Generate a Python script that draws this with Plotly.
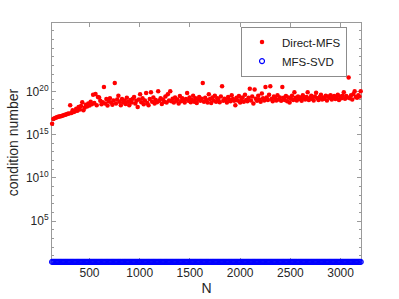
import plotly.graph_objects as go

# Sample sizes N (grid of the experiment)
N = list(range(128, 3201, 12))

# log10 of the condition number, Direct-MFS
direct_mfs_log10 = [
    16.25, 16.8, 16.9, 16.95, 17.0, 17.05, 17.08, 17.12, 17.15, 17.2,
    17.25, 17.3, 17.35, 17.4, 17.45, 18.4, 17.5, 17.8, 17.6, 17.7,
    18.0, 17.75, 18.2, 17.9, 18.3, 18.75, 17.8, 18.1, 18.45, 18.25,
    18.6, 18.35, 18.8, 18.5, 19.6, 18.65, 19.7, 18.4, 19.35, 19.3,
    18.9, 18.5, 18.75, 20.5, 18.6, 19.1, 18.35, 18.85, 19.2, 18.7,
    18.45, 18.95, 20.95, 18.6, 19.05, 19.5, 18.8, 18.4, 19.1, 18.7,
    18.95, 18.55, 19.25, 18.8, 18.4, 19.0, 18.7, 19.15, 19.35, 18.6,
    18.9, 18.2, 19.05, 19.65, 18.75, 19.2, 18.5, 18.95, 19.8, 18.65,
    18.4, 19.1, 19.9, 18.8, 19.3, 18.6, 19.0, 18.75, 20.0, 18.9,
    19.2, 18.55, 19.05, 18.8, 19.4, 18.7, 19.65, 18.95, 20.0, 18.85,
    19.15, 18.7, 19.3, 18.9, 19.05, 18.6, 19.45, 18.85, 19.2, 18.95,
    18.7, 19.1, 19.8, 18.9, 19.3, 18.75, 19.0, 19.5, 18.8, 19.2,
    18.65, 19.05, 19.35, 18.9, 19.15, 20.95, 18.8, 19.25, 19.0, 18.7,
    19.65, 19.1, 18.65, 19.3, 18.95, 19.5, 18.8, 19.2, 19.0, 18.75,
    19.4, 20.6, 18.9, 19.15, 19.0, 18.7, 19.35, 19.05, 18.85, 19.55,
    19.1, 18.9, 18.4, 19.25, 18.95, 19.45, 18.7, 19.1, 19.3, 18.8,
    19.6, 19.0, 18.85, 19.25, 20.3, 18.95, 19.4, 18.6, 20.2, 19.15,
    18.9, 19.5, 19.05, 18.8, 19.75, 19.2, 18.95, 20.5, 19.3, 19.0,
    19.6, 20.6, 19.1, 18.85, 19.4, 19.2, 18.95, 19.55, 19.05, 19.3,
    18.9, 20.5, 19.25, 19.0, 19.45, 18.85, 19.3, 18.7, 19.15, 19.5,
    19.0, 19.9, 19.25, 18.95, 19.4, 19.1, 19.3, 18.9, 19.55, 19.2,
    19.05, 19.35, 19.9, 19.0, 19.25, 19.5, 19.1, 18.95, 19.4, 19.85,
    19.2, 19.0, 19.35, 19.6, 19.05, 19.3, 19.15, 19.5, 18.95, 19.4,
    19.25, 19.55, 19.05, 19.35, 19.45, 19.1, 19.3, 19.6, 19.0, 19.4,
    19.2, 19.5, 19.9, 19.15, 19.45, 19.3, 21.6, 19.2, 19.55, 19.05,
    19.7, 20.0, 19.35, 19.25, 19.55, 19.4, 20.0,
]

# Condition number, MFS-SVD
mfs_svd_cond = [
    1.90, 1.91, 1.90, 1.89, 1.90, 1.91, 1.90, 1.90, 1.89, 1.90, 1.91, 1.90, 1.90, 1.90, 1.89, 1.90,
    1.91, 1.90, 1.90, 1.89, 1.90, 1.90, 1.91, 1.90, 1.90, 1.90, 1.89, 1.90, 1.91, 1.90, 1.90, 1.90,
    1.89, 1.90, 1.90, 1.91, 1.90, 1.90, 1.89, 1.90, 1.90, 1.91, 1.90, 1.90, 1.90, 1.89, 1.90, 1.91,
    1.90, 1.90, 1.90, 1.89, 1.90, 1.90, 1.91, 1.90, 1.90, 1.89, 1.90, 1.90, 1.91, 1.90, 1.90, 1.90,
    1.89, 1.90, 1.91, 1.90, 1.90, 1.90, 1.89, 1.90, 1.90, 1.91, 1.90, 1.90, 1.89, 1.90, 1.90, 1.91,
    1.90, 1.90, 1.90, 1.89, 1.90, 1.91, 1.90, 1.90, 1.89, 1.90, 1.90, 1.91, 1.90, 1.90, 1.90, 1.89,
    1.90, 1.90, 1.91, 1.90, 1.90, 1.89, 1.90, 1.90, 1.91, 1.90, 1.90, 1.90, 1.89, 1.90, 1.91, 1.90,
    1.90, 1.90, 1.89, 1.90, 1.90, 1.91, 1.90, 1.90, 1.89, 1.90, 1.90, 1.91, 1.90, 1.90, 1.90, 1.89,
    1.90, 1.91, 1.90, 1.90, 1.90, 1.89, 1.90, 1.90, 1.91, 1.90, 1.90, 1.89, 1.90, 1.90, 1.91, 1.90,
    1.90, 1.90, 1.89, 1.90, 1.91, 1.90, 1.90, 1.90, 1.89, 1.90, 1.90, 1.91, 1.90, 1.90, 1.89, 1.90,
    1.90, 1.91, 1.90, 1.90, 1.90, 1.89, 1.90, 1.91, 1.90, 1.90, 1.90, 1.89, 1.90, 1.90, 1.91, 1.90,
    1.90, 1.89, 1.90, 1.90, 1.91, 1.90, 1.90, 1.90, 1.89, 1.90, 1.91, 1.90, 1.90, 1.90, 1.89, 1.90,
    1.90, 1.91, 1.90, 1.89, 1.90, 1.90, 1.91, 1.90, 1.90, 1.90, 1.89, 1.90, 1.91, 1.90, 1.90, 1.90,
    1.89, 1.90, 1.90, 1.91, 1.90, 1.90, 1.89, 1.90, 1.90, 1.91, 1.90, 1.90, 1.90, 1.89, 1.90, 1.91,
    1.90, 1.90, 1.90, 1.89, 1.90, 1.90, 1.91, 1.90, 1.90, 1.89, 1.90, 1.90, 1.91, 1.90, 1.90, 1.90,
    1.89, 1.90, 1.91, 1.90, 1.90, 1.90, 1.89, 1.90, 1.90, 1.91, 1.90, 1.90, 1.89, 1.90, 1.90, 1.91,
    1.90,
]

x_tick_vals = [500, 1000, 1500, 2000, 2500, 3000]
y_tick_vals = [1e5, 1e10, 1e15, 1e20]
y_tick_text = ["10<sup>5</sup>", "10<sup>10</sup>", "10<sup>15</sup>", "10<sup>20</sup>"]
y_minor_vals = [10.0 ** k for k in range(1, 28)]

direct_cond = [10.0 ** v for v in direct_mfs_log10]

FONT = "Liberation Sans, Arial, Helvetica, sans-serif"
AXIS_COLOR = "#9a9a9a"

fig = go.Figure()
fig.add_trace(go.Scatter(
    x=N, y=direct_cond, mode="markers", name="Direct-MFS",
    marker=dict(color="#ff0000", size=4.5, line=dict(width=0)),
    cliponaxis=False,
))
fig.add_trace(go.Scatter(
    x=N, y=mfs_svd_cond, mode="markers", name="MFS-SVD",
    marker=dict(color="#0000ff", size=5, symbol="circle-open", line=dict(width=1.2, color="#0000ff")),
    cliponaxis=False,
))

fig.update_layout(
    width=399, height=299,
    margin=dict(l=52, r=38, t=23, b=37, pad=0, autoexpand=False),
    paper_bgcolor="white", plot_bgcolor="white",
    font=dict(family=FONT, size=12, color="#262626"),
    showlegend=True,
    legend=dict(
        x=0.6117, y=0.985, xanchor="left", yanchor="top",
        bordercolor="#8c8c8c", borderwidth=1, bgcolor="white",
        font=dict(family=FONT, size=11.5, color="#1a1a1a"),
        tracegroupgap=0, entrywidth=86, entrywidthmode="pixels",
    ),
    xaxis=dict(
        range=[127, 3203], tickvals=x_tick_vals, automargin=False,
        ticks="inside", ticklen=4, tickcolor=AXIS_COLOR,
        showline=True, linecolor=AXIS_COLOR, linewidth=1, mirror="allticks",
        showgrid=False, zeroline=False, layer="below traces",
        title=dict(text="N", font=dict(size=14, family=FONT), standoff=3),
        tickfont=dict(size=12, family=FONT),
    ),
    yaxis=dict(
        type="log", range=[0.27, 27.9], automargin=False,
        tickvals=y_tick_vals, ticktext=y_tick_text,
        ticks="inside", ticklen=4, tickcolor=AXIS_COLOR,
        showline=True, linecolor=AXIS_COLOR, linewidth=1, mirror="allticks",
        showgrid=False, zeroline=False, layer="below traces",
        minor=dict(tickvals=y_minor_vals, ticks="inside", ticklen=2, tickcolor=AXIS_COLOR, showgrid=False),
        title=dict(text="condition number", font=dict(size=14, family=FONT), standoff=4),
        tickfont=dict(size=12, family=FONT),
    ),
)

fig.write_html(
    "out.html",
    config={"displayModeBar": False},
    post_script="document.body.style.margin='0px';",
)
